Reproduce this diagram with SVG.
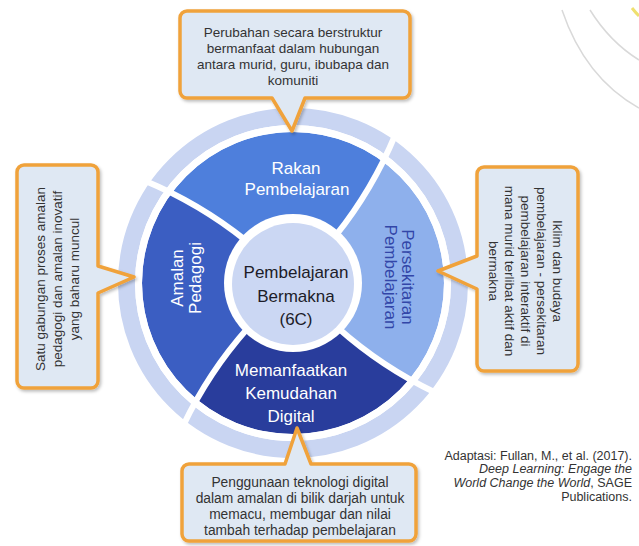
<svg xmlns="http://www.w3.org/2000/svg" width="639" height="546" viewBox="0 0 639 546">
<style>
.seg{font-family:"Liberation Sans",Arial,sans-serif;font-size:17px;fill:#ffffff;text-anchor:middle}
.ctr{font-family:"Liberation Sans",Arial,sans-serif;font-size:17px;fill:#1c1c28;text-anchor:middle}
.co{font-family:"Liberation Sans",Arial,sans-serif;font-size:13.5px;fill:#333333;text-anchor:middle}
.cite{font-family:"Liberation Sans",Arial,sans-serif;font-size:12.5px;fill:#333333;text-anchor:end}
.box{fill:#dfe8f3;stroke:#f0a23a;stroke-width:3.5;stroke-linejoin:round;filter:url(#sh)}
.gap{fill:none;stroke:#ffffff;stroke-width:6}
</style>
<defs>
<filter id="sh" x="-10%" y="-10%" width="130%" height="130%">
<feDropShadow dx="1.5" dy="2" stdDeviation="1.5" flood-color="#000" flood-opacity="0.25"/>
</filter>
<clipPath id="segclip"><circle cx="293" cy="283" r="151"/></clipPath>
</defs>
<rect width="639" height="546" fill="#ffffff"/>
<g id="background-arcs" fill="none">
<path d="M 562 10 Q 585 78 639 108" stroke="#d9d9d9" stroke-width="1.5"/>
<path d="M 590 10 Q 610 42 639 60" stroke="#d9d9d9" stroke-width="1.5"/>
<path d="M 632 8 Q 636 13 639 16" stroke="#efe070" stroke-width="3"/>
</g>
<g id="ring">
<circle cx="293" cy="283" r="166.5" fill="none" stroke="#c9d5f2" stroke-width="17"/>
<g clip-path="url(#segclip)">
<path id="seg-rakan" d="M 293 283 L 335.8 235.4 Q 372.3 189.9 395.2 134.8 A 180 180 0 0 0 144.8 180.8 Q 199.9 203.7 245.4 240.2 Z" fill="#4e7fdc"/>
<path id="seg-persekitaran" d="M 293 283 L 338.3 328.3 Q 381.85 367.05 435.6 392.8 A 180 180 0 0 0 395.2 134.8 Q 372.3 189.9 335.8 235.4 Z" fill="#8eb0ec"/>
<path id="seg-memanfaatkan" d="M 293 283 L 247.7 328.3 Q 208.95 371.85 183.2 425.6 A 180 180 0 0 0 435.6 392.8 Q 381.85 367.05 338.3 328.3 Z" fill="#293d9c"/>
<path id="seg-amalan" d="M 293 283 L 245.4 240.2 Q 199.9 203.7 144.8 180.8 A 180 180 0 0 0 183.2 425.6 Q 208.95 371.85 247.7 328.3 Z" fill="#3b5ec2"/>
</g>
<circle cx="293" cy="283" r="154.5" fill="none" stroke="#ffffff" stroke-width="7"/>
</g>
<g id="connectors">
<path class="gap" d="M 335.8 235.4 Q 372.3 189.9 395.2 134.8"/>
<path class="gap" d="M 245.4 240.2 Q 199.9 203.7 144.8 180.8"/>
<path class="gap" d="M 247.7 328.3 Q 208.95 371.85 183.2 425.6"/>
<path class="gap" d="M 338.3 328.3 Q 381.85 367.05 435.6 392.8"/>
</g>
<g id="center">
<circle cx="293" cy="283" r="69" fill="#ffffff"/>
<circle cx="293" cy="284" r="61" fill="#cbd7f3"/>
<text class="ctr" x="296" y="278">Pembelajaran</text>
<text class="ctr" x="296" y="301.5">Bermakna</text>
<text class="ctr" x="296" y="325">(6C)</text>
</g>
<g id="node-rakan">
<text class="seg" x="296" y="174">Rakan</text>
<text class="seg" x="297" y="195">Pembelajaran</text>
</g>
<g id="node-amalan">
<text class="seg" transform="translate(183,278) rotate(-90)"><tspan x="0" y="0">Amalan</tspan><tspan x="0" y="17.5">Pedagogi</tspan></text>
</g>
<g id="node-persekitaran">
<text class="seg" style="fill:#3246a8" transform="translate(402,277) rotate(90)"><tspan x="0" y="0">Persekitaran</tspan><tspan x="0" y="17">Pembelajaran</tspan></text>
</g>
<g id="node-memanfaatkan">
<text class="seg" x="291" y="376">Memanfaatkan</text>
<text class="seg" x="291" y="399">Kemudahan</text>
<text class="seg" x="291" y="422">Digital</text>
</g>
<g id="callout-top">
<path class="box" d="M 187 11 H 403 A 7 7 0 0 1 410 18 V 91 A 7 7 0 0 1 403 98 H 305 L 292 131 L 272 98 H 187 A 7 7 0 0 1 180 91 V 18 A 7 7 0 0 1 187 11 Z"/>
<text class="co" x="293" y="37">Perubahan secara berstruktur</text>
<text class="co" x="293" y="53">bermanfaat dalam hubungan</text>
<text class="co" x="293" y="69">antara murid, guru, ibubapa dan</text>
<text class="co" x="293" y="84.5">komuniti</text>
</g>
<g id="callout-left">
<path class="box" d="M 24 165 H 91 A 7 7 0 0 1 98 172 V 266 L 134 277 L 98 293 V 381 A 7 7 0 0 1 91 388 H 24 A 7 7 0 0 1 17 381 V 172 A 7 7 0 0 1 24 165 Z"/>
<text class="co" transform="translate(45,279) rotate(-90)"><tspan x="0" y="0">Satu gabungan proses amalan</tspan><tspan x="0" y="17">pedagogi dan amalan inovatif</tspan><tspan x="0" y="34">yang baharu muncul</tspan></text>
</g>
<g id="callout-right">
<path class="box" d="M 484 167 H 571 A 7 7 0 0 1 578 174 V 364 A 7 7 0 0 1 571 371 H 484 A 7 7 0 0 1 477 364 V 289 L 438 271 L 477 256 V 174 A 7 7 0 0 1 484 167 Z"/>
<text class="co" transform="translate(553,271) rotate(90)"><tspan x="0" y="0">Iklim dan budaya</tspan><tspan x="0" y="16">pembelajaran - persekitaran</tspan><tspan x="0" y="32">pembelajaran interaktif di</tspan><tspan x="0" y="48">mana murid terlibat aktif dan</tspan><tspan x="0" y="64">bermakna</tspan></text>
</g>
<g id="callout-bottom">
<path class="box" d="M 189 464 H 285 L 297 428 L 311 464 H 409 A 7 7 0 0 1 416 471 V 534 A 7 7 0 0 1 409 541 H 189 A 7 7 0 0 1 182 534 V 471 A 7 7 0 0 1 189 464 Z"/>
<text class="co" style="font-size:13.8px" x="300" y="487">Penggunaan teknologi digital</text>
<text class="co" style="font-size:13.8px" x="300" y="503">dalam amalan di bilik darjah untuk</text>
<text class="co" style="font-size:13.8px" x="300" y="519">memacu, membugar dan nilai</text>
<text class="co" style="font-size:13.8px" x="300" y="535">tambah terhadap pembelajaran</text>
</g>
<g id="citation">
<text class="cite" x="632" y="459.5">Adaptasi: Fullan, M., et al. (2017).</text>
<text class="cite" x="632" y="473" font-style="italic">Deep Learning: Engage the</text>
<text class="cite" x="632" y="486.5"><tspan font-style="italic">World Change the World</tspan>, SAGE</text>
<text class="cite" x="632" y="500.5">Publications.</text>
</g>
</svg>
